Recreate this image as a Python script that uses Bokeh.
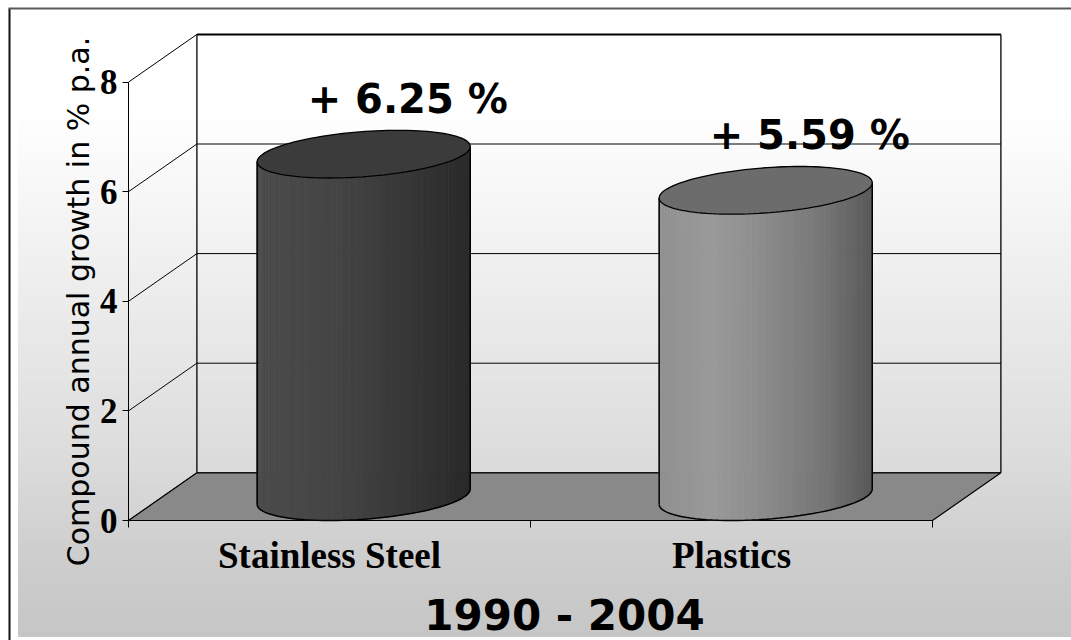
import numpy as np
from bokeh.plotting import figure
from bokeh.models import Range1d, LinearAxis, FixedTicker
from bokeh.core.properties import value
from bokeh.embed import file_html
from bokeh.resources import INLINE

# ---- data -------------------------------------------------------------
CATEGORIES = ["Stainless Steel", "Plastics"]
GROWTH = [6.25, 5.59]                 # compound annual growth, % p.a.
Y_TICKS = [0, 2, 4, 6, 8]
PERIOD = "1990 - 2004"
Y_TITLE = "Compound annual growth in % p.a."

# ---- geometry of the pseudo-3D box ---------------------------------------
W, H = 1071, 640
X0_PX, PX_PER_X = 128.0, 402.0        # front plane: x=0 at 128px, one category = 402px
Y0_PX, PX_PER_Y = 520.0, 54.8         # front plane: value 0 at 520px
DX = 68.4 / PX_PER_X                  # depth offset of the back wall (x units)
DY = 47.7 / PX_PER_Y                  # depth offset of the back wall (value units)
YMAX = Y_TICKS[-1]
N = len(CATEGORIES)
R = 0.251                             # cylinder radius (x units)
HX, HY = DX / 2, DY / 2               # half-depth vector


def xd(px):
    """screen x (px) -> data x"""
    return (px - X0_PX) / PX_PER_X


def yd(py):
    """screen y (px, from top) -> data y"""
    return (Y0_PX - py) / PX_PER_Y


p = figure(width=W, height=H,
           x_range=Range1d(xd(0), xd(W)), y_range=Range1d(yd(H), yd(0)),
           x_axis_type=None, y_axis_type=None,
           output_backend="svg", toolbar_location=None, min_border=0)
p.outline_line_color = None
p.border_fill_color = "white"
p.background_fill_color = "white"

# ---- slide panel: vertical grey gradient with a frame line ------------------
GRAD_STOPS = [(9, 255), (110, 255), (300, 236), (450, 221), (560, 205), (636, 198)]
edges = np.linspace(9, 636, 115)
mids = (edges[:-1] + edges[1:]) / 2
gcols = ["#%02x%02x%02x" % ((g,) * 3)
         for g in np.round(np.interp(mids, *zip(*GRAD_STOPS))).astype(int)]
p.quad(left=xd(18), right=xd(W + 2),
       top=[yd(e) for e in edges[:-1]], bottom=[yd(e) for e in edges[1:]],
       fill_color=gcols, line_color=gcols, line_width=1)
p.line([xd(9), xd(9)], [yd(8), yd(H + 2)], line_color="#111111", line_width=2)
p.line([xd(8), xd(W + 2)], [yd(8), yd(8)], line_color="#5a5a5a", line_width=2)

# ---- back wall, side wall and floor ------------------------------------
p.multi_line(xs=[[DX, N + DX] for v in Y_TICKS[:-1]],
             ys=[[v + DY, v + DY] for v in Y_TICKS[:-1]],
             line_color="black", line_width=1)
p.line([DX, N + DX], [YMAX + DY, YMAX + DY], line_color="black", line_width=2)
p.multi_line(xs=[[DX, DX], [N + DX, N + DX]],
             ys=[[DY, YMAX + DY], [DY, YMAX + DY]],
             line_color="black", line_width=1.3)
p.multi_line(xs=[[0, DX] for v in Y_TICKS],
             ys=[[v, v + DY] for v in Y_TICKS],
             line_color="black", line_width=1)
p.patch([0, N, N + DX, DX], [0, 0, DY, DY],
        fill_color="#898989", line_color="black", line_width=1.2)

# category separator ticks under the front floor edge
TICK_LEN = 7 / PX_PER_Y
p.segment(x0=list(range(N + 1)), y0=[0] * (N + 1),
          x1=list(range(N + 1)), y1=[-TICK_LEN] * (N + 1),
          line_color="black", line_width=1)

# ---- cylinders -----------------------------------------------------------
def shade(u, stops):
    xs_, vs_ = zip(*stops)
    g = int(round(np.interp(u, xs_, vs_)))
    return "#%02x%02x%02x" % (g, g, g)

STEEL_STOPS = [(0, 0x4b), (0.35, 0x45), (0.7, 0x37), (1, 0x28)]
PLASTIC_STOPS = [(0, 0x90), (0.25, 0x9a), (0.5, 0x8b), (0.8, 0x73), (1, 0x58)]
BODY_STOPS = [STEEL_STOPS, PLASTIC_STOPS]
TOP_COLORS = ["#3b3b3b", "#6c6c6c"]

t0 = np.arctan(HX / R)
ts = np.linspace(np.pi + t0, 2 * np.pi + t0, 49)

def ring(cx, cy, t):
    return cx + R * np.cos(t) + HX * np.sin(t), cy + HY * np.sin(t)

for i, (name, val) in enumerate(zip(CATEGORIES, GROWTH)):
    cx = i + 0.5 + HX
    base = HY
    top = HY + val
    bx, by = ring(cx, base, ts)
    tx, ty = ring(cx, top, ts)
    xmin, xmax = bx.min(), bx.max()
    pxs, pys, cols = [], [], []
    for k in range(len(ts) - 1):
        pxs.append([bx[k], bx[k + 1], tx[k + 1], tx[k]])
        pys.append([by[k], by[k + 1], ty[k + 1], ty[k]])
        u = ((bx[k] + bx[k + 1]) / 2 - xmin) / (xmax - xmin)
        cols.append(shade(u, BODY_STOPS[i]))
    p.patches(pxs, pys, fill_color=cols, line_color=cols, line_width=0.8)
    # outline of the body
    p.line(bx, by, line_color="black", line_width=1.5)
    p.multi_line(xs=[[bx[0], tx[0]], [bx[-1], tx[-1]]],
                 ys=[[by[0], ty[0]], [by[-1], ty[-1]]],
                 line_color="black", line_width=1.5)
    # top cap
    tt = np.linspace(0, 2 * np.pi, 121)
    ex, ey = ring(cx, top, tt)
    p.patch(ex, ey, fill_color=TOP_COLORS[i], line_color="black", line_width=1.3)

# value labels above the cylinder tops
p.text(x=[i + 0.5 + HX for i in range(N)], y=[v + HY for v in GROWTH],
       text=["+ %.2f %%" % v for v in GROWTH],
       x_offset=44, y_offset=-55,
       text_align="center", text_baseline="alphabetic",
       text_font=value("DejaVu Sans"), text_font_style="bold",
       text_font_size="40px", text_color="black")

# ---- axes ----------------------------------------------------------------
yax = LinearAxis(fixed_location=0, bounds=(0, YMAX),
                 ticker=FixedTicker(ticks=Y_TICKS),
                 axis_label=Y_TITLE,
                 axis_label_text_font="DejaVu Sans",
                 axis_label_text_font_style="normal",
                 axis_label_text_font_size="30px",
                 axis_label_text_color="black",
                 axis_label_standoff=1,
                 major_label_text_font="Liberation Serif",
                 major_label_text_font_style="bold",
                 major_label_text_font_size="35px",
                 major_label_text_color="black",
                 major_label_standoff=5,
                 major_tick_out=6, major_tick_in=0,
                 minor_tick_line_color=None,
                 axis_line_color="black", major_tick_line_color="black")
p.add_layout(yax, "left")

centers = [i + 0.5 for i in range(N)]
xax = LinearAxis(fixed_location=0, bounds=(HX, N + HX),
                 ticker=FixedTicker(ticks=centers),
                 major_label_overrides={c: n for c, n in zip(centers, CATEGORIES)},
                 major_label_text_font="Liberation Serif",
                 major_label_text_font_style="bold",
                 major_label_text_font_size="37px",
                 major_label_text_color="black",
                 major_label_standoff=14,
                 major_tick_out=0, major_tick_in=0,
                 major_tick_line_color=None, minor_tick_line_color=None,
                 axis_line_color=None,
                 axis_label=PERIOD,
                 axis_label_text_font="DejaVu Sans",
                 axis_label_text_font_style="bold",
                 axis_label_text_font_size="42px",
                 axis_label_text_color="black",
                 axis_label_standoff=12)
p.add_layout(xax, "below")

open("out.html", "w").write(file_html(p, INLINE))
